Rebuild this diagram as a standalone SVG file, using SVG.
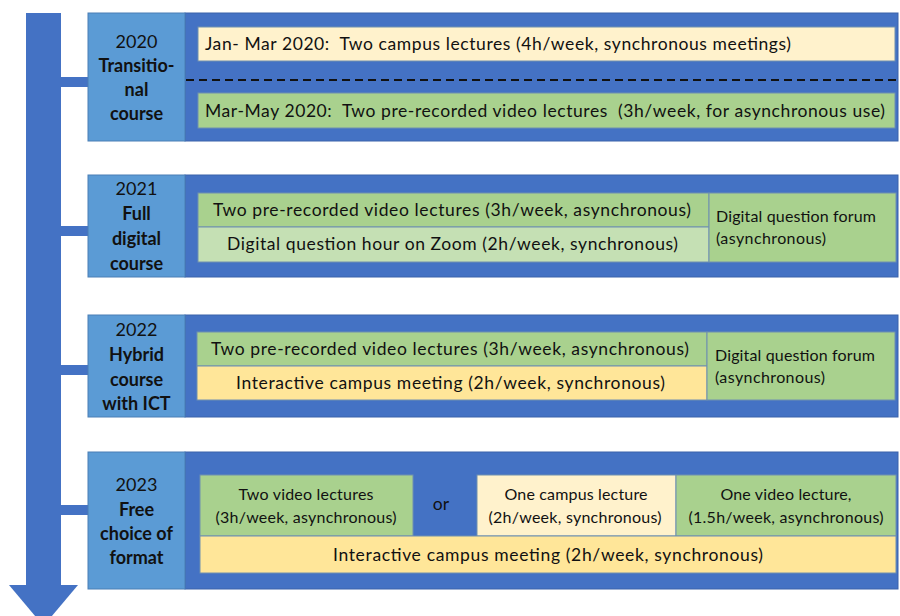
<svg xmlns="http://www.w3.org/2000/svg" width="900" height="616" viewBox="0 0 900 616">
<style>
text{font-family:Lato,"Liberation Sans",sans-serif;fill:#111;white-space:pre;}
.yr{font-size:18px;text-anchor:middle;}
.lb{font-size:18px;font-weight:bold;text-anchor:middle;}
.t{font-size:17.5px;}
.s{font-size:16px;}
.c{text-anchor:middle;}
.lab{fill:#5B9BD5;stroke:#4A7FB5;stroke-width:1;}
.pan{fill:#4472C4;stroke:#3A62AA;stroke-width:1;}
.g{fill:#A9D18E;stroke:#6E8FB0;stroke-width:1;}
.lg{fill:#C5E0B4;stroke:#6E8FB0;stroke-width:1;}
.cr{fill:#FFF2CC;stroke:#6E8FB0;stroke-width:1;}
.y{fill:#FFE699;stroke:#6E8FB0;stroke-width:1;}
.bar{fill:#4472C4;}
</style>
<g id="connectors">
<rect class="bar" x="26" y="13" width="35" height="573"/>
<polygon class="bar" points="9,585 78,585 43.5,626"/>
<rect class="bar" x="61" y="77" width="28" height="10"/>
<rect class="bar" x="61" y="226" width="28" height="10"/>
<rect class="bar" x="61" y="365" width="28" height="10"/>
<rect class="bar" x="61" y="505" width="28" height="10"/>
</g>
<g id="row2020">
<rect class="pan" x="185" y="13" width="713" height="128"/>
<rect class="lab" x="88" y="13" width="97" height="128"/>
<text class="yr" x="136.5" y="48">2020</text>
<text class="lb" x="136.5" y="72">Transitio-</text>
<text class="lb" x="136.5" y="96">nal</text>
<text class="lb" x="136.5" y="120">course</text>
<rect class="cr" x="198" y="27" width="697" height="34"/>
<text class="t" x="205" y="50" textLength="586" xml:space="preserve">Jan- Mar 2020:  Two campus lectures (4h/week, synchronous meetings)</text>
<line x1="186" y1="80" x2="898" y2="80" stroke="#111" stroke-width="2" stroke-dasharray="8,5"/>
<rect class="g" x="198" y="93" width="697" height="35"/>
<text class="t" x="205" y="117" textLength="680" xml:space="preserve">Mar-May 2020:  Two pre-recorded video lectures  (3h/week, for asynchronous use)</text>
</g>
<g id="row2021">
<rect class="pan" x="185" y="175" width="713" height="102"/>
<rect class="lab" x="88" y="175" width="97" height="102"/>
<text class="yr" x="136.5" y="195">2021</text>
<text class="lb" x="136.5" y="220">Full</text>
<text class="lb" x="136.5" y="245">digital</text>
<text class="lb" x="136.5" y="270">course</text>
<rect class="g" x="198" y="193" width="511" height="34"/>
<text class="t" x="213" y="216" textLength="478">Two pre-recorded video lectures (3h/week, asynchronous)</text>
<rect class="lg" x="198" y="227" width="511" height="35"/>
<text class="t" x="227" y="250" textLength="451">Digital question hour on Zoom (2h/week, synchronous)</text>
<rect class="g" x="709" y="193" width="187" height="69"/>
<text class="s" x="716" y="222" textLength="160">Digital question forum</text>
<text class="s" x="716" y="244" textLength="110">(asynchronous)</text>
</g>
<g id="row2022">
<rect class="pan" x="185" y="315" width="713" height="102"/>
<rect class="lab" x="88" y="315" width="97" height="102"/>
<text class="yr" x="136.5" y="336">2022</text>
<text class="lb" x="136.5" y="361">Hybrid</text>
<text class="lb" x="136.5" y="386">course</text>
<text class="lb" x="136.5" y="410">with ICT</text>
<rect class="g" x="197" y="332" width="510" height="34"/>
<text class="t" x="211" y="355" textLength="478">Two pre-recorded video lectures (3h/week, asynchronous)</text>
<rect class="y" x="197" y="366" width="510" height="34"/>
<text class="t" x="236" y="389" textLength="429">Interactive campus meeting (2h/week, synchronous)</text>
<rect class="g" x="707" y="332" width="188" height="68"/>
<text class="s" x="715" y="361" textLength="160">Digital question forum</text>
<text class="s" x="715" y="383" textLength="110">(asynchronous)</text>
</g>
<g id="row2023">
<rect class="pan" x="185" y="452" width="713" height="137"/>
<rect class="lab" x="88" y="452" width="97" height="137"/>
<text class="yr" x="136.5" y="491">2023</text>
<text class="lb" x="136.5" y="516">Free</text>
<text class="lb" x="136.5" y="540">choice of</text>
<text class="lb" x="136.5" y="564">format</text>
<rect class="g" x="200" y="475" width="213" height="61"/>
<text class="s c" x="306" y="500" textLength="135">Two video lectures</text>
<text class="s c" x="306" y="523" textLength="181">(3h/week, asynchronous)</text>
<text class="t c" x="441" y="510">or</text>
<rect class="cr" x="477" y="475" width="199" height="61"/>
<text class="s c" x="576" y="500" textLength="143">One campus lecture</text>
<text class="s c" x="575" y="523" textLength="173">(2h/week, synchronous)</text>
<rect class="g" x="676" y="475" width="220" height="61"/>
<text class="s c" x="786" y="500" textLength="131">One video lecture,</text>
<text class="s c" x="786" y="523" textLength="195">(1.5h/week, asynchronous)</text>
<rect class="y" x="200" y="536" width="696" height="37"/>
<text class="t c" x="548" y="561" textLength="430">Interactive campus meeting (2h/week, synchronous)</text>
</g>
</svg>
